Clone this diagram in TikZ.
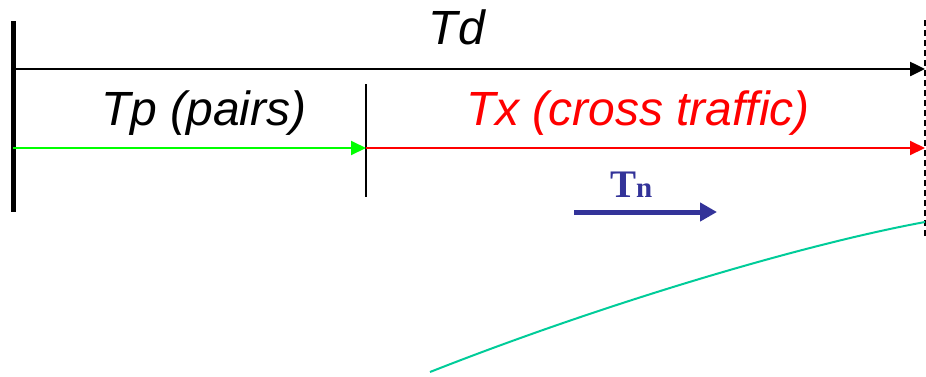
\documentclass[tikz,border=0pt]{standalone}
\usepackage{fontspec}
\newfontfamily\arialfont{Liberation Sans}
\newfontfamily\timesfont{Liberation Serif}
\usetikzlibrary{arrows.meta}
\definecolor{tnblue}{HTML}{333399}
\definecolor{teal2}{HTML}{00CC99}
\definecolor{green2}{HTML}{00FF00}
\tikzset{
  lbl/.style={inner sep=0pt, anchor=base, font=\arialfont\itshape\fontsize{48}{48}\selectfont},
  tiparrow/.style={-{Triangle[length=15pt,width=14pt]}},
}
\begin{document}
\begin{tikzpicture}[x=1pt,y=-1pt]
\useasboundingbox (0,0) rectangle (926,376);
% coordinates
\coordinate (barTop) at (13,21);
\coordinate (barBot) at (13,212);
\coordinate (tdStart) at (13,69);
\coordinate (tdEnd) at (925,69);
\coordinate (tpStart) at (13,148);
\coordinate (mid) at (366,148);
\coordinate (txEnd) at (925,148);
\coordinate (vTop) at (366,84);
\coordinate (vBot) at (366,197);
\coordinate (dTop) at (925,20);
\coordinate (dBot) at (925,238);
\coordinate (tnStart) at (574,212);
\coordinate (tnEnd) at (717,212);
\coordinate (cStart) at (430,372);
\coordinate (cEnd) at (925,222);
% left bar
\draw[line width=5pt] (barTop) -- (barBot);
% dashed
\draw[line width=1.3pt, dash pattern=on 6pt off 4pt] (dTop) -- (dBot);
% Td arrow
\draw[line width=2.5pt, tiparrow] (tdStart) -- (tdEnd);
% divider
\draw[line width=1.5pt] (vTop) -- (vBot);
% Tp arrow
\draw[green2, line width=2pt, tiparrow] (tpStart) -- (mid);
% Tx arrow
\draw[red, line width=2pt, tiparrow] (mid) -- (txEnd);
% Tn arrow
\draw[tnblue, line width=5pt, -{Triangle[length=17pt,width=18pt]}] (tnStart) -- (tnEnd);
% curve
\draw[teal2, line width=2pt] (cStart) .. controls (600,305) and (800,245) .. (cEnd);
% labels
\node[lbl] (td) at (457,44) {Td};
\node[lbl] (tp) at (204,125) {Tp (pairs)};
\node[lbl, text=red] (tx) at (638,125) {Tx (cross traffic)};
\node[inner sep=0pt, anchor=base west, text=tnblue] (tn) at (610,197)
  {\timesfont\bfseries\fontsize{39}{39}\selectfont T\fontsize{29}{29}\selectfont n};
\end{tikzpicture}
\end{document}
